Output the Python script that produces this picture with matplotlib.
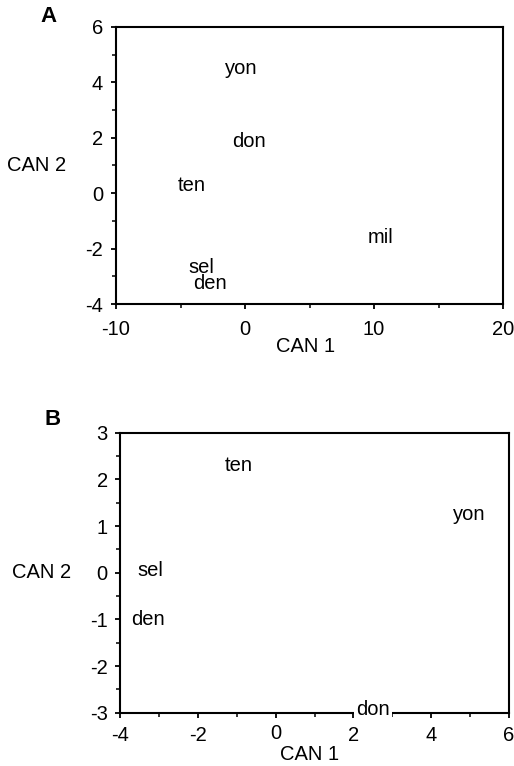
import numpy as np
import matplotlib
matplotlib.use("Agg")
import matplotlib.pyplot as plt
import matplotlib.transforms as mtransforms
from matplotlib.ticker import MultipleLocator, FixedLocator, FixedFormatter

plt.rcParams['font.family'] = ['Liberation Sans', 'DejaVu Sans']
plt.rcParams['axes.unicode_minus'] = False

# panel A: canonical scores
a_names = ['yon', 'don', 'ten', 'mil', 'sel', 'den']
a_can1 = [-0.3, 0.3, -4.1, 10.5, -3.4, -2.7]
a_can2 = [4.3, 1.68, 0.09, -1.81, -2.87, -3.45]

# panel B
b_names = ['ten', 'yon', 'sel', 'den', 'don']
b_can1 = [-0.96, 4.98, -3.23, -3.29, 2.5]
b_can2 = [2.19, 1.13, -0.07, -1.12, -3.05]
b_xticks = [-4, -2, 0, 2, 4, 6]

fig = plt.figure(figsize=(5.14, 7.66), dpi=100)
axA = fig.add_axes([0.2257, 0.6031, 0.7529, 0.3617])
axB = fig.add_axes([0.2335, 0.0696, 0.7568, 0.3655])

FS = 14.5


def style(ax, xpad, ypad):
    for s in ax.spines.values():
        s.set_linewidth(1.5)
    ax.tick_params(which='major', direction='out', length=3.8, width=1.3,
                   labelsize=FS)
    ax.tick_params(which='minor', direction='out', length=2.6, width=1.1)
    ax.tick_params(axis='x', pad=xpad)
    ax.tick_params(axis='y', pad=ypad)
    ax.tick_params(top=False, right=False, which='both')


# --- A ---
axA.set_xlim(-10, 20)
axA.set_ylim(-4, 6)
axA.xaxis.set_major_locator(MultipleLocator(10))
axA.xaxis.set_minor_locator(MultipleLocator(5))
axA.yaxis.set_major_locator(MultipleLocator(2))
axA.yaxis.set_minor_locator(MultipleLocator(1))
style(axA, 8, 5.5)
for n, x, y in zip(a_names, a_can1, a_can2):
    axA.text(x, y, n, ha='center', va='baseline', fontsize=FS)
axA.set_xlabel('CAN 1', fontsize=FS)
axA.xaxis.set_label_coords(0.49, -0.118)
axA.set_ylabel('CAN 2', fontsize=FS, rotation=0, ha='center', va='center')
axA.yaxis.set_label_coords(-0.205, 0.5)

# --- B ---
axB.set_xlim(-4, 6)
axB.set_ylim(-3, 3)
axB.xaxis.set_major_locator(FixedLocator(b_xticks))
# the 0 label sits a little higher in the original, drawn separately
axB.xaxis.set_major_formatter(FixedFormatter([str(t) if t != 0 else '' for t in b_xticks]))
axB.xaxis.set_minor_locator(MultipleLocator(1))
axB.yaxis.set_major_locator(MultipleLocator(1))
axB.yaxis.set_minor_locator(MultipleLocator(0.5))
style(axB, 6, 5)
trans = mtransforms.blended_transform_factory(axB.transData, axB.transAxes)
axB.text(0, -0.04, '0', transform=trans, ha='center', va='top', fontsize=FS)
for n, x, y in zip(b_names, b_can1, b_can2):
    if n == 'don':
        axB.text(x, y, n, ha='center', va='baseline', fontsize=FS, zorder=5,
                 bbox=dict(facecolor='white', edgecolor='none', pad=1.5))
    else:
        axB.text(x, y, n, ha='center', va='baseline', fontsize=FS)
axB.set_xlabel('CAN 1', fontsize=FS)
axB.xaxis.set_label_coords(0.488, -0.114)
axB.set_ylabel('CAN 2', fontsize=FS, rotation=0, ha='center', va='center')
axB.yaxis.set_label_coords(-0.201, 0.5)

fig.text(0.095, 0.979, 'A', fontsize=16, fontweight='bold', ha='center', va='center')
fig.text(0.1025, 0.452, 'B', fontsize=16, fontweight='bold', ha='center', va='center')

fig.savefig('out.png', dpi=100)
